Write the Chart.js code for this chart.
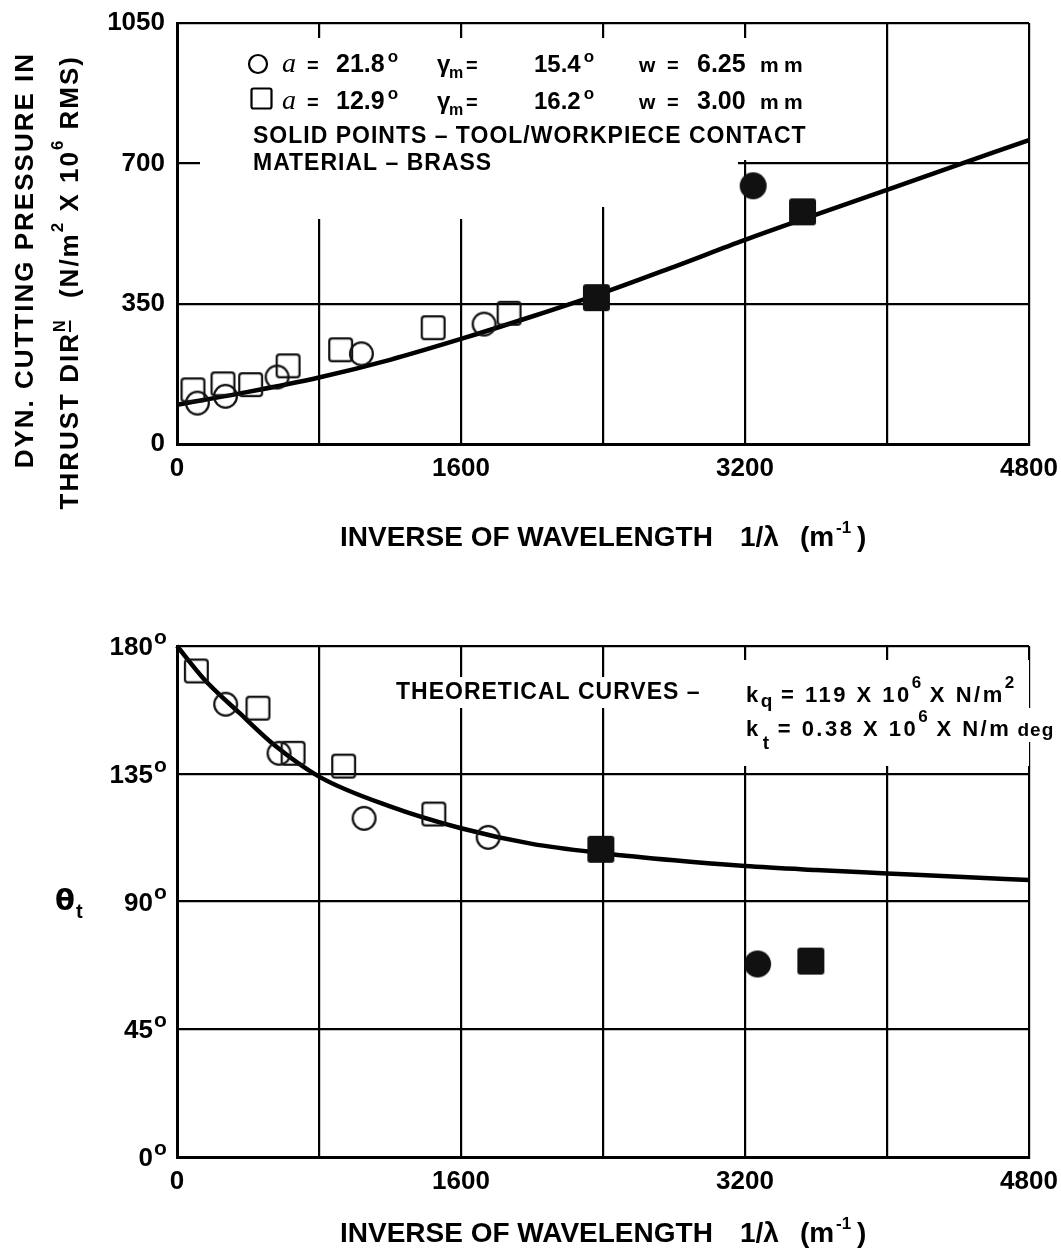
<!DOCTYPE html>
<html>
<head>
<meta charset="utf-8">
<script src="https://cdn.jsdelivr.net/npm/chart.js@4/dist/chart.umd.min.js"></script>
<style>
  body { margin: 0; background: #fff; }
  #wrap { position: relative; width: 1061px; height: 1250px; }
  .box { position: absolute; left: 0; width: 1061px; }
</style>
</head>
<body>
<div id="wrap">
  <div class="box" style="top:0;height:590px"><canvas id="pressure"></canvas></div>
  <div class="box" style="top:600px;height:650px"><canvas id="phase"></canvas></div>
</div>
<script>
// ---- dynamic cutting pressure in thrust direction (N/m^2 x 10^6 RMS) ----
const pOpenCircX = [115, 273, 564, 1039, 1730];
const pOpenCircY = [102, 119, 167, 225, 299];
const pOpenSqX = [90, 259, 415, 626, 922, 1443, 1871];
const pOpenSqY = [135, 150, 148, 195, 235, 290, 326];
const pSolidCircX = [3246];
const pSolidCircY = [644];
const pSolidSqX = [2363, 3524];
const pSolidSqY = [365, 579];
const pCurveX = [0, 400, 800, 1200, 1600, 2000, 2400, 2800, 3200, 3600, 4000, 4400, 4800];
const pCurveY = [98, 130, 166, 210, 262, 318, 377, 442, 509, 572, 634, 696, 758];

// ---- phase angle theta_t (deg) ----
const tOpenCircX = [274, 575, 1054, 1753];
const tOpenCircY = [159.5, 142.2, 119.3, 112.6];
const tOpenSqX = [109, 456, 654, 939, 1447];
const tOpenSqY = [171.2, 158.1, 142.2, 137.7, 120.8];
const tSolidCircX = [3271];
const tSolidCircY = [68.0];
const tSolidSqX = [2388, 3571];
const tSolidSqY = [108.4, 69.0];
const tCurveX = [0, 150, 350, 550, 800, 1200, 1600, 2000, 2400, 2800, 3200, 3600, 4000, 4400, 4800];
const tCurveY = [180, 168.5, 156.5, 145, 134, 123.5, 115.8, 110.3, 107, 104.5, 102.5, 101.1, 99.9, 98.7, 97.6];

// axis ranges / ticks
const xMax = 4800, xGridStep = 800, xLabelStep = 1600;
const pMax = 1050, pStep = 350;
const tMax = 180, tStep = 45;
const tTicks = [0, 45, 90, 135, 180];

// test conditions printed in the key
const rakeAngles = ['21.8', '12.9'];
const gammaM = ['15.4', '16.2'];
const widthsMm = ['6.25', '3.00'];

const FONT = '"Liberation Sans", Arial, sans-serif';
const B = s => `bold ${s}px ${FONT}`;

Chart.defaults.font.family = FONT;
Chart.defaults.font.weight = 'bold';
Chart.defaults.color = '#000';

const pts = (xs, ys) => xs.map((x, i) => ({ x, y: ys[i] }));

// little canvases used as point styles
function markImg(kind, size, lw) {
  const c = document.createElement('canvas');
  c.width = c.height = size + 2;
  const g = c.getContext('2d');
  const m = (size + 2) / 2;
  g.strokeStyle = g.fillStyle = '#111';
  g.lineWidth = lw;
  g.beginPath();
  if (kind === 'circle') g.arc(m, m, size / 2 - lw / 2, 0, Math.PI * 2);
  else if (kind === 'dot') g.arc(m, m, size / 2, 0, Math.PI * 2);
  else {
    const h = kind === 'block' ? size / 2 : size / 2 - lw / 2;
    g.roundRect(m - h, m - h, 2 * h, 2 * h, 3);
  }
  if (kind === 'dot' || kind === 'block') g.fill(); else g.stroke();
  return c;
}
const openCircle = markImg('circle', 25, 2.2);
const openSquare = markImg('square', 25, 2.2);
const solidCircle = markImg('dot', 27, 0);
const solidSquare = markImg('block', 27, 0);

function markers(data, style) {
  return { data, pointStyle: style, pointRadius: 12, showLine: false, clip: false };
}
function curve(data) {
  return {
    data, showLine: true, pointRadius: 0, borderColor: '#000', borderWidth: 4.5,
    cubicInterpolationMode: 'monotone', clip: false
  };
}

// text helpers
function put(ctx, items) {
  for (const [t, x, y, font, ls] of items) {
    ctx.font = font;
    ctx.letterSpacing = ls || '0px';
    ctx.fillText(t, x, y);
  }
  ctx.letterSpacing = '0px';
}
function runWidth(ctx, parts) {
  let w = 0;
  for (const p of parts) {
    ctx.font = p.f; ctx.letterSpacing = p.ls || '0px';
    w += ctx.measureText(p.t).width + (p.gap || 0);
  }
  return w;
}
function drawRun(ctx, x, y, parts) {
  let cx = x;
  for (const p of parts) {
    ctx.font = p.f; ctx.letterSpacing = p.ls || '0px';
    cx += p.gap || 0;
    ctx.fillText(p.t, cx, y + (p.dy || 0));
    const w = ctx.measureText(p.t).width;
    if (p.bar) ctx.fillRect(cx, y + p.bar, w, 2);
    cx += w;
  }
  ctx.letterSpacing = '0px';
  return cx;
}

// whites out grid behind the notes, then writes notes and titles
const paper = {
  id: 'paper',
  beforeDatasetsDraw(chart, args, opts) {
    const ctx = chart.ctx;
    ctx.save();
    ctx.translate(0, -opts.oy);
    ctx.fillStyle = '#fff';
    for (const [x, y, w, h] of opts.masks) ctx.fillRect(x, y, w, h);
    ctx.restore();
  },
  afterDraw(chart, args, opts) {
    const ctx = chart.ctx;
    ctx.save();
    ctx.translate(0, -opts.oy);
    ctx.fillStyle = ctx.strokeStyle = '#000';
    ctx.textAlign = 'left';
    ctx.textBaseline = 'alphabetic';
    opts.notes(ctx, chart, opts.oy);
    ctx.restore();
  }
};

function xAxisTitle(ctx, base) {
  put(ctx, [
    ['INVERSE OF WAVELENGTH', 340, base, B(28)],
    ['1/\u03BB', 740, base, B(28)],
    ['(m', 800, base, B(28)],
    ['-1', 836, base - 13, B(17)],
    [')', 857, base, B(28)]
  ]);
}

function pressureNotes(ctx) {
  // key symbols
  ctx.lineWidth = 2.2;
  ctx.beginPath(); ctx.arc(258, 64, 9, 0, Math.PI * 2); ctx.stroke();
  ctx.beginPath(); ctx.roundRect(251.5, 88.5, 20, 20, 2); ctx.stroke();

  [72, 109].forEach((yb, i) => {
    put(ctx, [
      ['a', 282, yb, `italic 28px "Liberation Serif", serif`],
      ['=', 307, yb, B(20)],
      ['\u03B3', 437, yb, B(24)],
      ['m', 449, yb + 6, B(16)],
      ['=', 466, yb, B(20)],
      ['w', 639, yb, B(21)],
      ['=', 667, yb, B(20)],
      [widthsMm[i], 697, yb, B(25)],
      ['m', 760, yb, B(21)],
      ['m', 784, yb, B(21)]
    ]);
    drawRun(ctx, 336, yb, [{ t: rakeAngles[i], f: B(25) }, { t: 'o', f: B(17), dy: -10, gap: 3 }]);
    drawRun(ctx, 534, yb, [{ t: gammaM[i], f: B(24) }, { t: 'o', f: B(17), dy: -10, gap: 3 }]);
  });
  put(ctx, [
    ['SOLID POINTS \u2013 TOOL/WORKPIECE CONTACT', 253, 143, B(23), '1px'],
    ['MATERIAL \u2013 BRASS', 253, 170, B(23), '1px']
  ]);

  xAxisTitle(ctx, 546);

  // rotated y title, two lines ending near the top of the plot
  ctx.save();
  ctx.translate(33, 0);
  ctx.rotate(-Math.PI / 2);
  ctx.textAlign = 'right';
  ctx.font = B(26);
  ctx.letterSpacing = '2px';
  ctx.fillText('DYN. CUTTING PRESSURE IN', -52, 0);
  ctx.letterSpacing = '0px';
  ctx.restore();

  ctx.save();
  ctx.translate(78, 0);
  ctx.rotate(-Math.PI / 2);
  const line2 = [
    { t: 'THRUST DIR', f: B(26), ls: '2px' },
    { t: 'N', f: B(16), dy: -13, bar: -9 },
    { t: '  (N/m', f: B(26), ls: '2px', gap: 4 },
    { t: '2', f: B(17), dy: -15 },
    { t: ' X 10', f: B(26), ls: '2px', gap: 2 },
    { t: '6', f: B(17), dy: -15 },
    { t: ' RMS)', f: B(26), ls: '2px', gap: 2 }
  ];
  const w2 = runWidth(ctx, line2);
  drawRun(ctx, -55 - w2, 0, line2);
  ctx.restore();
}

function phaseNotes(ctx, chart, oy) {
  put(ctx, [['THEORETICAL CURVES \u2013', 396, 699, B(23), '1px']]);
  drawRun(ctx, 746, 702, [
    { t: 'k', f: B(22), ls: '2.5px' },
    { t: 'q', f: B(19), dy: 5 },
    { t: ' = 119 X 10', f: B(22), ls: '2.5px' },
    { t: '6', f: B(17), dy: -14 },
    { t: ' X N/m', f: B(22), ls: '2.5px' },
    { t: '2', f: B(17), dy: -14 }
  ]);
  drawRun(ctx, 746, 736, [
    { t: 'k', f: B(22), ls: '2.5px' },
    { t: 't', f: B(19), dy: 13, gap: 2 },
    { t: ' = 0.38 X 10', f: B(22), ls: '2.5px' },
    { t: '6', f: B(17), dy: -14 },
    { t: ' X N/m', f: B(22), ls: '2.5px' },
    { t: ' deg', f: B(19), ls: '1px' }
  ]);
  // axis symbol
  drawRun(ctx, 55, 910, [
    { t: '\u03B8', f: 'bold 29px "DejaVu Sans", sans-serif' },
    { t: 't', f: B(20), dy: 8, gap: 1 }
  ]);
  // angle tick labels with a raised "o" for degrees
  const ys = chart.scales.y;
  ctx.textBaseline = 'middle';
  for (const v of tTicks) {
    const py = ys.getPixelForValue(v) + oy + 2;
    ctx.font = B(26);
    ctx.textAlign = 'right';
    ctx.fillText(String(v), 153, py);
    ctx.font = B(21);
    ctx.textAlign = 'left';
    ctx.fillText('o', 154, py - 10);
  }
  ctx.textBaseline = 'alphabetic';
  xAxisTitle(ctx, 1242);
}

function makeChart(id, cfg) {
  const H = cfg.height;
  return new Chart(document.getElementById(id), {
    type: 'scatter',
    data: { datasets: cfg.datasets },
    options: {
      responsive: true,
      maintainAspectRatio: false,
      animation: false,
      events: [],
      layout: { padding: { top: cfg.top, right: 32, left: 0, bottom: 0 } },
      plugins: {
        legend: { display: false },
        tooltip: { enabled: false },
        paper: { oy: cfg.oy, masks: cfg.masks, notes: cfg.notes }
      },
      scales: {
        x: {
          type: 'linear', min: 0, max: xMax,
          afterFit: s => { s.height = H - cfg.bottom; s.paddingLeft = 0; s.paddingRight = 0; },
          ticks: {
            stepSize: xGridStep, autoSkip: false, maxRotation: 0, padding: 9,
            font: { size: 26, weight: 'bold' },
            callback: v => (v % xLabelStep === 0 ? String(v) : '')
          },
          grid: { color: '#000', lineWidth: 2.2, drawTicks: false },
          border: { color: '#000', width: 3 }
        },
        y: {
          type: 'linear', min: 0, max: cfg.yMax,
          afterFit: s => { s.width = 177; s.paddingTop = 0; s.paddingBottom = 0; },
          ticks: {
            stepSize: cfg.yStep, autoSkip: false, padding: 12,
            font: { size: 26, weight: 'bold' },
            callback: cfg.yLabel
          },
          grid: { color: '#000', lineWidth: 2.2, drawTicks: false },
          border: { color: '#000', width: 3 }
        }
      }
    },
    plugins: [paper]
  });
}

makeChart('pressure', {
  height: 590, top: 23, bottom: 444, oy: 0,
  yMax: pMax, yStep: pStep, yLabel: v => String(v),
  masks: [[200, 38, 538, 132], [738, 38, 14, 122], [200, 170, 270, 49], [470, 170, 142, 37]],
  notes: pressureNotes,
  datasets: [
    markers(pts(pSolidCircX, pSolidCircY), solidCircle),
    markers(pts(pSolidSqX, pSolidSqY), solidSquare),
    markers(pts(pOpenCircX, pOpenCircY), openCircle),
    markers(pts(pOpenSqX, pOpenSqY), openSquare),
    curve(pts(pCurveX, pCurveY))
  ]
});

// angle labels are written by the paper plugin, so the scale only keeps the grid
makeChart('phase', {
  height: 650, top: 46, bottom: 557, oy: 600,
  yMax: tMax, yStep: tStep, yLabel: () => '',
  masks: [[390, 677, 315, 31], [738, 660, 291, 106], [1029, 708, 32, 34]],
  notes: phaseNotes,
  datasets: [
    markers(pts(tSolidCircX, tSolidCircY), solidCircle),
    markers(pts(tSolidSqX, tSolidSqY), solidSquare),
    markers(pts(tOpenCircX, tOpenCircY), openCircle),
    markers(pts(tOpenSqX, tOpenSqY), openSquare),
    curve(pts(tCurveX, tCurveY))
  ]
});
</script>
</body>
</html>
